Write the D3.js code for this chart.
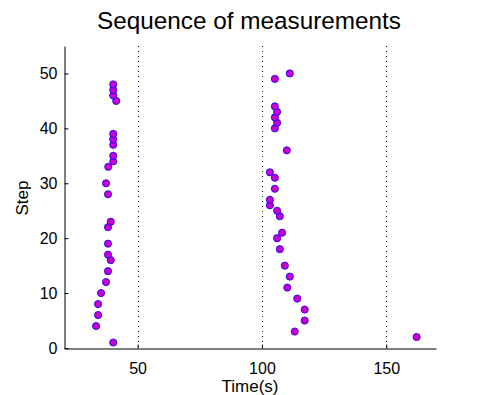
<!DOCTYPE html>
<html>
<head>
<meta charset="utf-8">
<script src="https://cdn.jsdelivr.net/npm/d3@7"></script>
<style>
  body { margin: 0; background: #fff; }
  svg { display: block; font-family: "Liberation Sans", Arial, sans-serif; }
</style>
</head>
<body>
<div id="chart"></div>
<script>
// Step number for each measurement, and the time (s) it was taken at
const steps = [
  1, 2, 3, 4, 5, 6, 7, 8, 9, 10,
  11, 12, 13, 14, 15, 16, 17, 18, 19, 20,
  21, 22, 23, 24, 25, 26, 27, 28, 29, 30,
  31, 32, 33, 34, 35, 36, 37, 38, 39, 40,
  41, 42, 43, 44, 45, 46, 47, 48, 49, 50
];
const times = [
  40.2, 162.2, 113.2, 33.3, 117.2, 34.1, 117.2, 34.1, 114.2, 35.3,
  110.2, 37.3, 111.2, 38.1, 109.2, 39.2, 38.1, 107.2, 38.1, 106.1,
  108.1, 38.1, 39.2, 107.2, 106.1, 103.2, 103.2, 38.1, 105.2, 37.3,
  105.2, 103.2, 38.2, 40.2, 40.2, 110.0, 40.2, 40.2, 40.2, 105.2,
  106.1, 105.2, 106.1, 105.2, 41.4, 40.2, 40.2, 40.2, 105.2, 111.2
];
const xTicks = [50, 100, 150];
const yTicks = [0, 10, 20, 30, 40, 50];

const W = 482, H = 395;
const margin = { top: 46, right: 46, bottom: 47, left: 64 };

const svg = d3.select("#chart").append("svg")
  .attr("width", W).attr("height", H);

const x = d3.scaleLinear().domain([20.4, 170]).range([margin.left, W - margin.right]);
const y = d3.scaleLinear().domain([0, 55]).range([H - margin.bottom, margin.top]);

// dotted vertical grid at the x ticks
svg.append("g")
  .selectAll("line")
  .data(xTicks)
  .join("line")
  .attr("x1", d => Math.round(x(d)) + 0.5)
  .attr("x2", d => Math.round(x(d)) + 0.5)
  .attr("y1", y(55))
  .attr("y2", y(0))
  .attr("stroke", "#000")
  .attr("stroke-width", 1)
  .attr("stroke-dasharray", "1,4");

// axes with inward ticks
const xAxis = svg.append("g")
  .attr("transform", `translate(0,${Math.round(y(0)) + 0.5})`)
  .call(d3.axisBottom(x).tickValues(xTicks).tickSizeInner(-4).tickSizeOuter(0).tickPadding(14));
const yAxis = svg.append("g")
  .attr("transform", `translate(${Math.round(x(20.4)) + 0.5},0)`)
  .call(d3.axisLeft(y).tickValues(yTicks).tickSizeInner(-4).tickSizeOuter(0).tickPadding(7));

[xAxis, yAxis].forEach(g => {
  g.select(".domain").attr("stroke", "#000");
  g.selectAll(".tick line").attr("stroke", "#000");
  g.selectAll(".tick text")
    .attr("fill", "#000")
    .attr("font-size", 16)
    .attr("font-family", "Liberation Sans, Arial, sans-serif");
});

// points
svg.append("g")
  .selectAll("circle")
  .data(steps)
  .join("circle")
  .attr("cx", (d, i) => x(times[i]))
  .attr("cy", d => y(d))
  .attr("r", 3.6)
  .attr("fill", "#cc00cc")
  .attr("stroke", "#0000ff")
  .attr("stroke-width", 0.8);

// title and axis labels
svg.append("text")
  .attr("x", 249).attr("y", 29)
  .attr("text-anchor", "middle")
  .attr("font-size", 24.3)
  .text("Sequence of measurements");

svg.append("text")
  .attr("x", 250).attr("y", 392)
  .attr("text-anchor", "middle")
  .attr("font-size", 17)
  .text("Time(s)");

svg.append("text")
  .attr("transform", "translate(28,198) rotate(-90)")
  .attr("text-anchor", "middle")
  .attr("font-size", 17)
  .text("Step");
</script>
</body>
</html>
